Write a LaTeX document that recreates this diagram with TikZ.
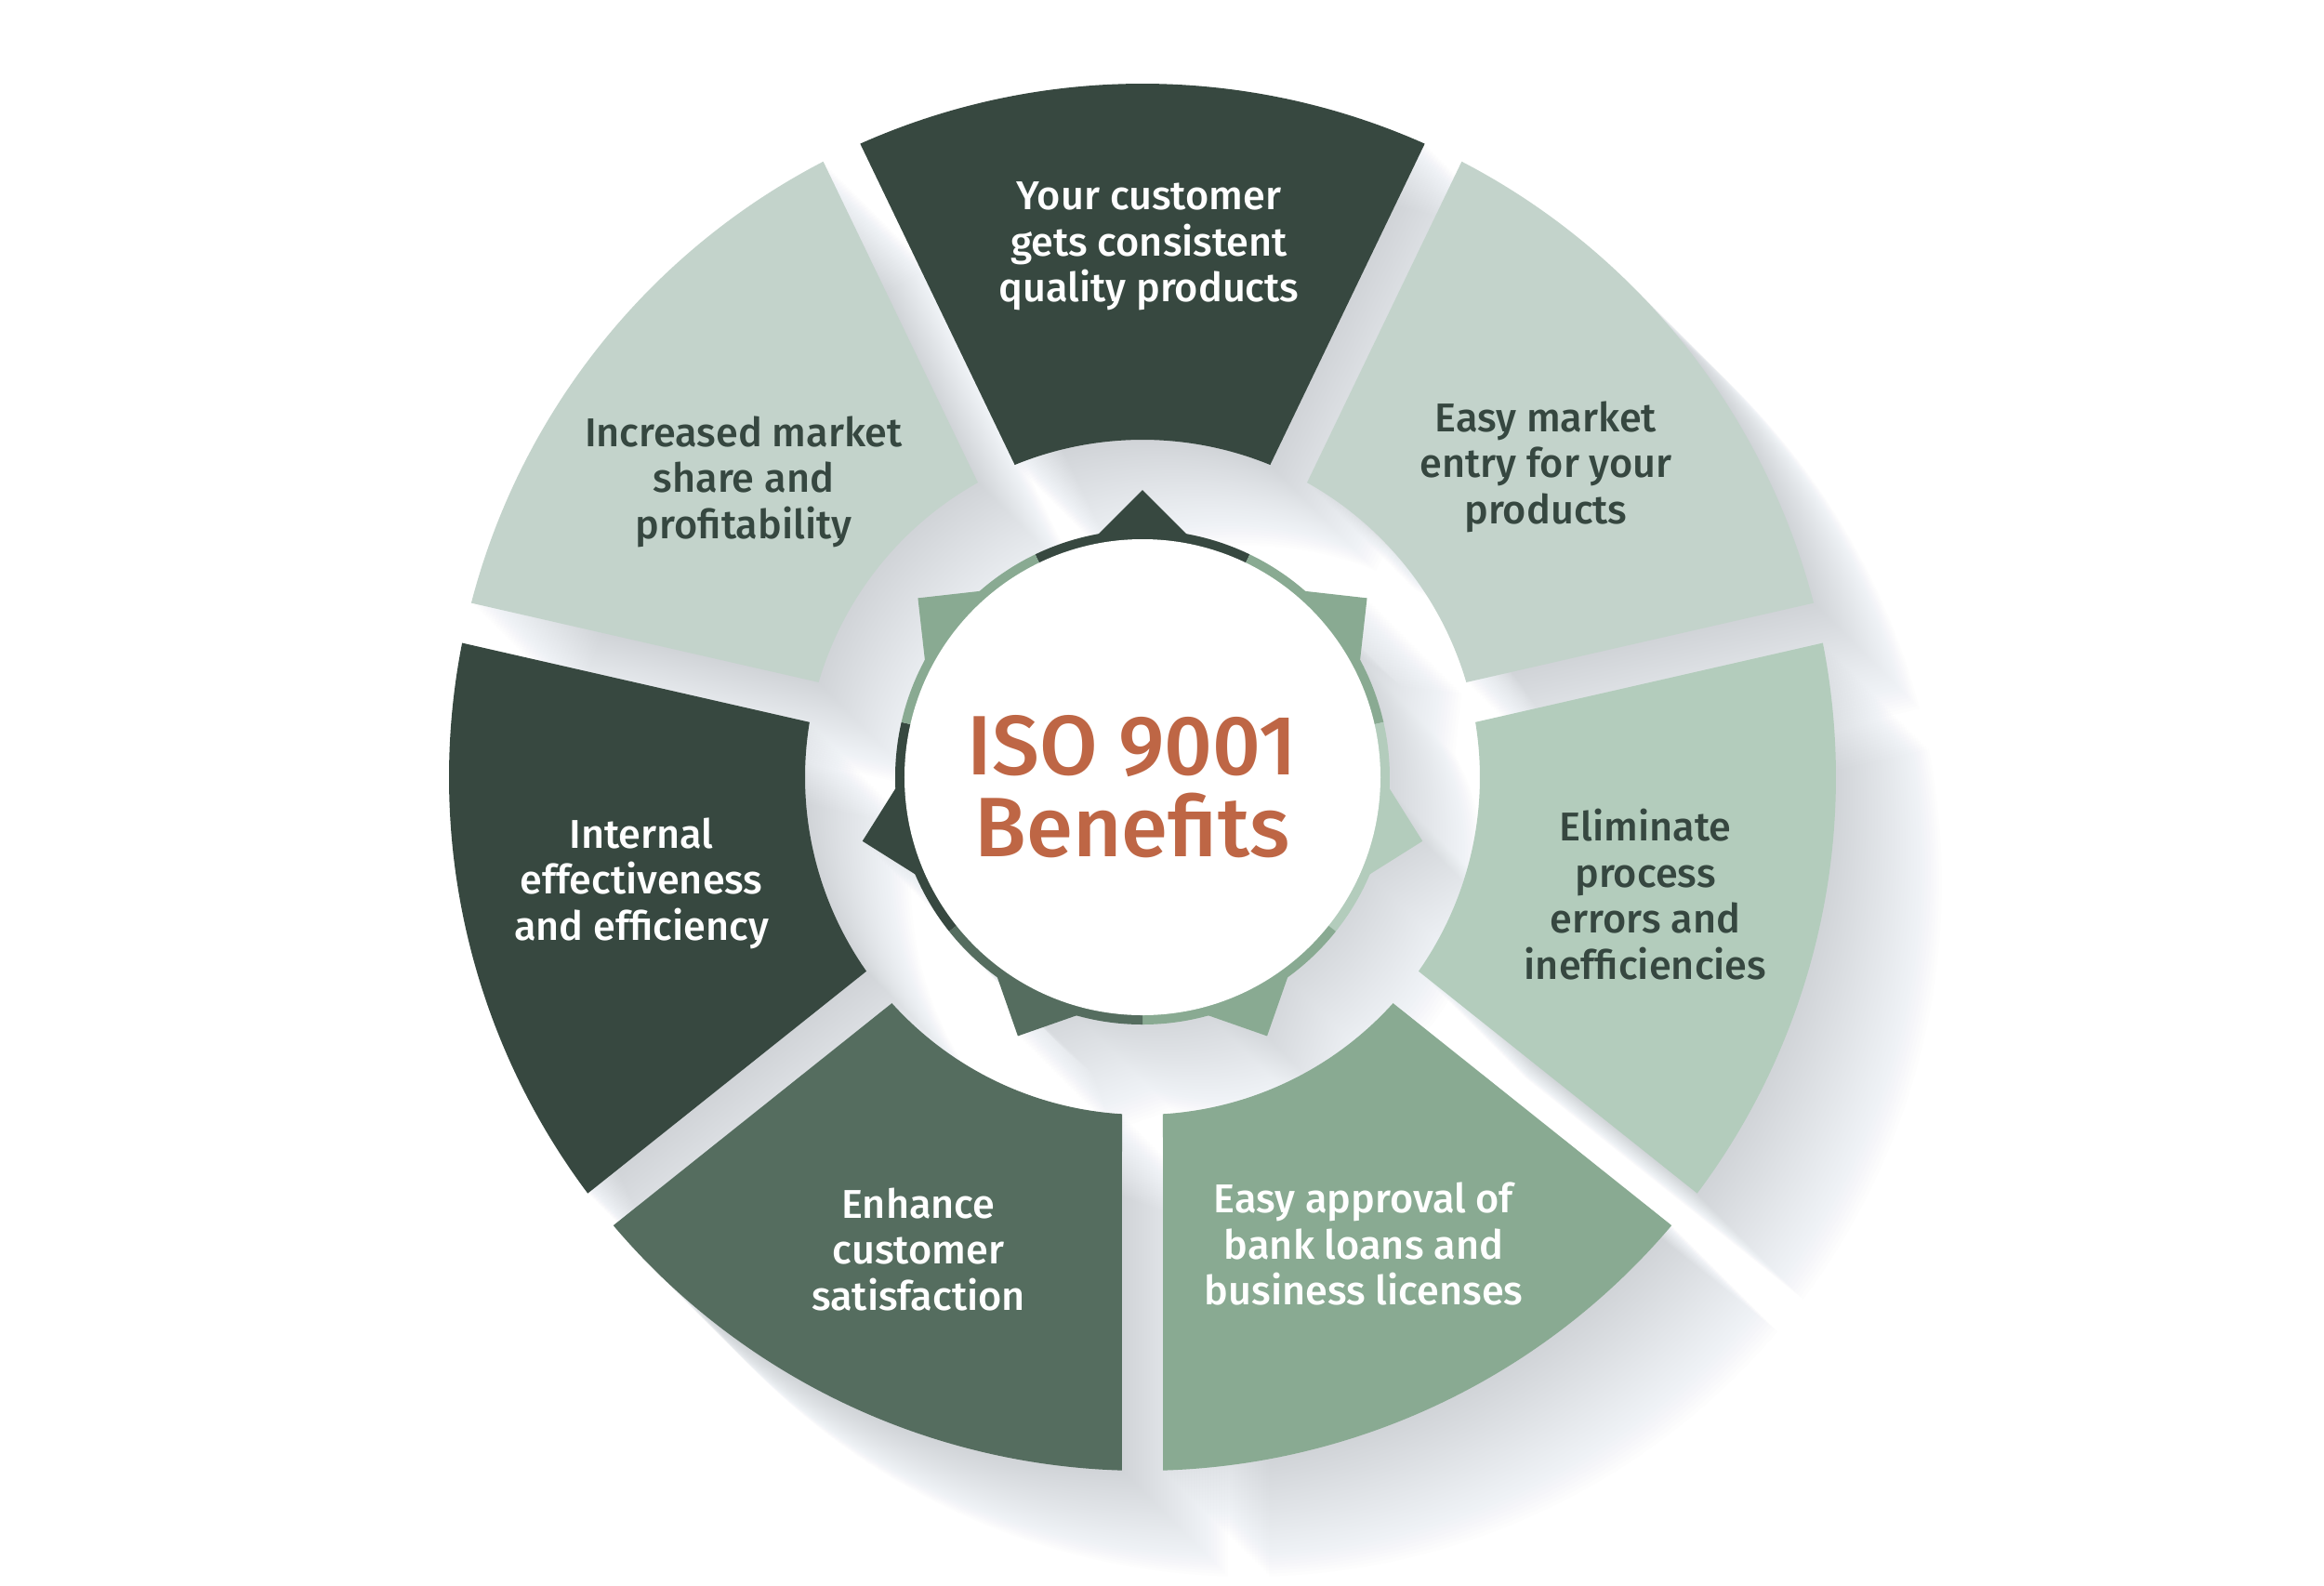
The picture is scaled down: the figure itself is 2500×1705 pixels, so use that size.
\documentclass[tikz,border=0pt]{standalone}
\usepackage{fontspec}
\setmainfont{Fira Sans}[UprightFont={* Medium}]
\definecolor{cdark}{HTML}{374840}
\definecolor{clight}{HTML}{C3D3CB}
\definecolor{clighttwo}{HTML}{B3CCBC}
\definecolor{cmed}{HTML}{89AA92}
\definecolor{cmdark}{HTML}{556D5F}
\definecolor{ctext}{HTML}{364740}
\definecolor{corange}{HTML}{BE6645}
\definecolor{shcol}{HTML}{9AA1A8}
\begin{document}
\begin{tikzpicture}[x=0.01cm,y=0.01cm,
  segp/.style={insert path={({#1-24.02}:746) arc[start angle={#1-24.02}, end angle={#1+24.02}, radius=746] -- ({#1+22.24}:363) arc[start angle={#1+22.24}, end angle={#1-22.24}, radius=363] -- cycle}},
  startri/.style={insert path={({#1}:309) -- +({#1+135}:90) -- +({#1-135}:90) -- cycle}},
  ringsec/.style={insert path={({#1-25.714}:266) arc[start angle={#1-25.714}, end angle={#1+25.714}, radius=266] -- ({#1+25.714}:248) arc[start angle={#1+25.714}, end angle={#1-25.714}, radius=248] -- cycle}},
  lbl/.style={align=center, inner sep=0pt, font=\fontsize{12.3}{14.05}\selectfont},
  shad/.style={shcol, opacity=0.013}
]
\useasboundingbox (-1229,-869) rectangle (1271,836);
\fill[white] (-1229,-869) rectangle (1271,836);

% long shadows of the segments
\foreach \a in {90,38.571,-12.857,-64.286,-115.714,-167.143,141.429}{
  \foreach \k in {1,...,38}{
    \fill[shad, shift={({3*\k},{-3*\k})}, segp=\a];
  }
}
% long shadow of the central badge
\foreach \k in {1,...,34}{
  \fill[shad, shift={({3*\k},{-3*\k})}] (0,0) circle[radius=266]
    [startri=90] [startri=38.571] [startri=-12.857] [startri=-64.286]
    [startri=-115.714] [startri=-167.143] [startri=141.429];
}

% segments
\fill[cdark, segp=90];
\fill[clight, segp=38.571];
\fill[clighttwo, segp=-12.857];
\fill[cmed, segp=-64.286];
\fill[cmdark, segp=-115.714];
\fill[cdark, segp=-167.143];
\fill[clight, segp=141.429];

% star points
\fill[cdark, startri=90];
\fill[cmed, startri=38.571];
\fill[clighttwo, startri=-12.857];
\fill[cmed, startri=-64.286];
\fill[cmdark, startri=-115.714];
\fill[cdark, startri=-167.143];
\fill[cmed, startri=141.429];

% coloured ring
\fill[cdark, ringsec=90];
\fill[cmed, ringsec=38.571];
\fill[clighttwo, ringsec=-12.857];
\fill[cmed, ringsec=-64.286];
\fill[cmdark, ringsec=-115.714];
\fill[cdark, ringsec=-167.143];
\fill[cmed, ringsec=141.429];

% central disc
\fill[white] (0,0) circle[radius=256];

% labels
\node[lbl, text=white] (t1) at (7,571) {Your customer\\gets consistent\\quality products};
\node[lbl, text=ctext] (t2) at (434,334) {Easy market\\entry for your\\products};
\node[lbl, text=ctext] (t3) at (541,-126) {Eliminate\\process\\errors and\\inefficiencies};
\node[lbl, text=white] (t4) at (238,-502) {Easy approval of\\bank loans and\\business licenses};
\node[lbl, text=white] (t5) at (-241,-508) {Enhance\\customer\\satisfaction};
\node[lbl, text=white] (t6) at (-539,-114) {Internal\\effectiveness\\and efficiency};
\node[lbl, text=ctext] (t7) at (-429,318) {Increased market\\share and\\profitability};
\node[inner sep=0pt, text=corange, font=\fontsize{25.8}{23.1}\selectfont] (ctra) at (-11,33) {ISO 9001};
\node[inner sep=0pt, text=corange, font=\fontsize{25.8}{23.1}\selectfont] (ctrb) at (-11,-52) {Benefits};
\end{tikzpicture}
\end{document}
